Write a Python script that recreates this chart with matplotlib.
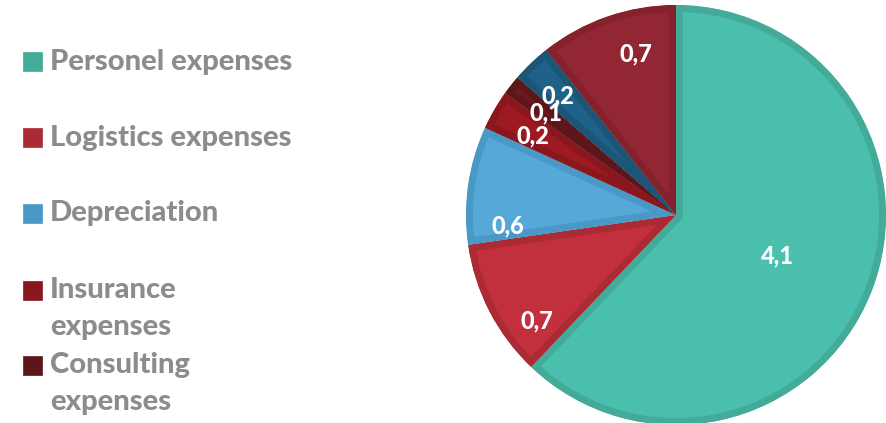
#!/usr/bin/env python3
"""Cost breakdown pie with a hand-placed legend on the left."""

import os

import numpy as np
import matplotlib
matplotlib.use("Agg")
import matplotlib.pyplot as plt
from matplotlib import font_manager
from matplotlib.font_manager import FontProperties
from matplotlib.patches import Rectangle


def bold_font(candidates, size):
    """FontProperties for the first candidate whose bold file is installed."""
    files = font_manager.findSystemFonts() + [f.fname for f in font_manager.fontManager.ttflist]
    for stem in candidates:
        for path in files:
            base = os.path.basename(path).lower()
            if base.startswith(stem.lower()) and "italic" not in base:
                return FontProperties(fname=path, size=size)
    return FontProperties(family="DejaVu Sans", weight="bold", size=size)


W, H = 887, 423

categories = [
    "Personel expenses",
    "Logistics expenses",
    "Depreciation",
    "Insurance\nexpenses",
    "Consulting\nexpenses",
    "Other expenses",
    "Miscellaneous expenses",
]
values = [4.1, 0.7, 0.6, 0.2, 0.1, 0.2, 0.7]
value_labels = ["4,1", "0,7", "0,6", "0,2", "0,1", "0,2", "0,7"]

fills = ["#4bbfad", "#c1303c", "#55a8d8", "#9e1a22", "#6b1b20", "#1f6289", "#922633"]
edges = ["#44ab9b", "#ab2a34", "#4a98c6", "#8b171e", "#5d171b", "#1c5576", "#83212c"]

# radial position and small angular nudge for each value label
label_radius = [0.52, 0.83, 0.80, 0.78, 0.79, 0.80, 0.79]
label_nudge = [0, 10, 12, 1, 0, 1, -5]

# legend rows: y of first line (px from top); only the first five fit
legend_rows = [62, 138, 213, 290, 365]
line_step = 37
legend_color = "#8c8c8c"

FONT_ORDER = ["Lato-Heavy.", "Lato-Black.", "Lato-Bold.", "OpenSans-Bold", "NotoSans-Bold"]
label_font = bold_font(FONT_ORDER, 17)
legend_font = bold_font(FONT_ORDER, 21)

fig = plt.figure(figsize=(W / 100, H / 100), dpi=100)

# pie axes: centre at (676, 215) px, radius 210 px
cx, cy, r = 676, 215, 210
ax = fig.add_axes([(cx - r) / W, (H - cy - r) / H, 2 * r / W, 2 * r / H])
wedges, _ = ax.pie(values, colors=fills, startangle=90, counterclock=False,
                   radius=1.0)
for w, ec in zip(wedges, edges):
    w.set_edgecolor(ec)
    w.set_linewidth(10)
    w.set_joinstyle("round")
    w.set_clip_on(True)
    w.set_clip_path(w)

for w, txt, dist, nudge in zip(wedges, value_labels, label_radius, label_nudge):
    mid = np.deg2rad((w.theta1 + w.theta2) / 2 + nudge)
    ax.text(dist * np.cos(mid), dist * np.sin(mid), txt, color="white",
            fontproperties=label_font, ha="center", va="center")

ax.set_xlim(-1, 1)
ax.set_ylim(-1, 1)
ax.set_aspect("equal")
ax.axis("off")

# legend drawn by hand so the wrapped labels sit like the source layout
for y0, label, fc, ec in zip(legend_rows, categories, fills, edges):
    fig.patches.append(Rectangle((23 / W, 1 - (y0 + 9.5) / H), 19 / W, 19 / H,
                                 transform=fig.transFigure, facecolor=ec,
                                 edgecolor=ec, linewidth=0.5))
    for i, line in enumerate(label.split("\n")):
        fig.text(50 / W, 1 - (y0 + i * line_step) / H, line, color=legend_color,
                 fontproperties=legend_font, ha="left", va="center")

fig.savefig("out.png", dpi=100, facecolor="white")
